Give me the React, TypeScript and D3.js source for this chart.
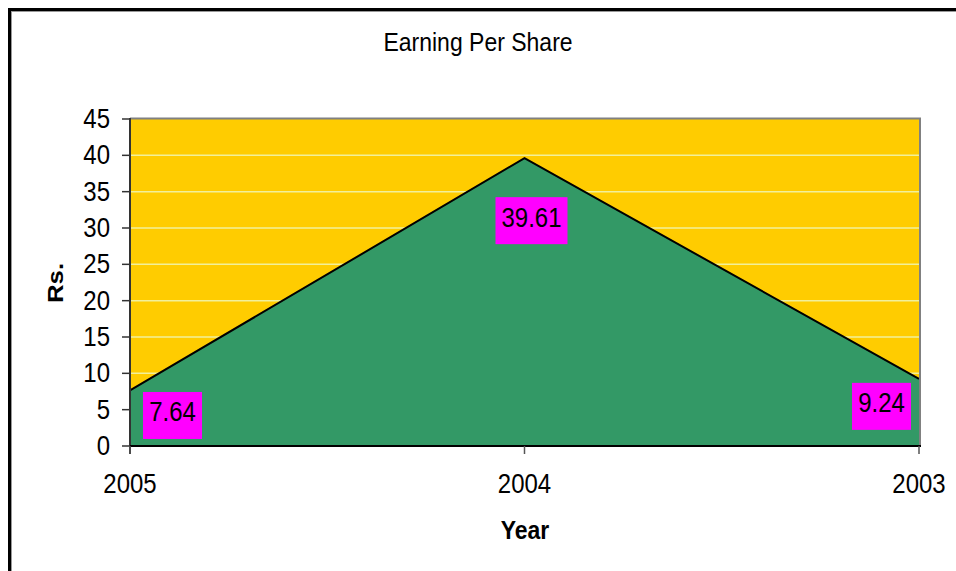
import React from "react";
import * as d3 from "d3";

const years = ["2005", "2004", "2003"];
const eps = [7.64, 39.61, 9.24];
const yTicks = [0, 5, 10, 15, 20, 25, 30, 35, 40, 45];
const labelOffsets = [
  { dx: 13, dy: 1.5 },
  { dx: -29, dy: 39 },
  { dx: -67, dy: 4 },
];

const W = 956, H = 571;
const L = 130, R = 919, T = 119, B = 446;
const FONT = "Arial, 'Liberation Sans', sans-serif";
const SY = 1.12;

export default function App() {
  const x = d3.scalePoint<string>().domain(years).range([L, R]);
  const y = d3.scaleLinear().domain([0, 45]).range([B, T]);
  const pts = years.map((yr, i) => ({ yr, v: eps[i] }));
  const area = d3.area<{ yr: string; v: number }>()
    .x(d => x(d.yr)!)
    .y0(B)
    .y1(d => y(d.v));
  const line = d3.line<{ yr: string; v: number }>()
    .x(d => x(d.yr)!)
    .y(d => y(d.v));

  const txt = (x0: number, y0: number, s: string, size: number, anchor: string, weight = "normal") => (
    <text
      transform={`translate(${x0},${y0}) scale(1,${SY})`}
      fontFamily={FONT}
      fontSize={size}
      fontWeight={weight}
      textAnchor={anchor}
      fill="#000"
    >{s}</text>
  );

  return (
    <svg width={W} height={H} style={{ position: "absolute", left: 0, top: 0, background: "#fff" }}>
      <rect x={0} y={0} width={W} height={H} fill="#fff" />
      {/* outer frame */}
      <line x1={8} x2={W} y1={9.5} y2={9.5} stroke="#000" strokeWidth={3} />
      <line x1={9.5} x2={9.5} y1={8} y2={H} stroke="#000" strokeWidth={3} />
      <line x1={11} x2={W} y1={11.5} y2={11.5} stroke="#999" strokeWidth={1} />
      <line x1={11.5} x2={11.5} y1={11} y2={H} stroke="#999" strokeWidth={1} />

      {txt(478, 51, "Earning Per Share", 23, "middle")}

      {/* plot background */}
      <rect x={L} y={T} width={R - L} height={B - T} fill="#FFCC00" />
      {yTicks.filter(t => t > 0 && t < 45).map(t => (
        <line key={t} x1={L} x2={R} y1={y(t)} y2={y(t)} stroke="#F2F09A" strokeWidth={1.5} />
      ))}
      <path d={area(pts)!} fill="#339966" />
      <path d={line(pts)!} fill="none" stroke="#000" strokeWidth={2} />
      {/* plot frame */}
      <line x1={L} x2={R + 2} y1={T - 0.5} y2={T - 0.5} stroke="#808080" strokeWidth={2} />
      <line x1={R + 1} x2={R + 1} y1={T - 1} y2={B} stroke="#808080" strokeWidth={2} />

      {/* y axis */}
      <line x1={L} x2={L} y1={T - 1} y2={B + 8} stroke="#333" strokeWidth={2} />
      {yTicks.map(t => (
        <g key={t}>
          <line x1={L - 8} x2={L} y1={y(t)} y2={y(t)} stroke="#333" strokeWidth={1.5} />
          {txt(110, y(t) + 9, String(t), 24, "end")}
        </g>
      ))}
      {/* x axis */}
      <line x1={L} x2={R + 2} y1={B} y2={B} stroke="#000" strokeWidth={2} />
      {years.map(yr => (
        <g key={yr}>
          <line x1={x(yr)!} x2={x(yr)!} y1={B} y2={B + 8} stroke="#555" strokeWidth={1.5} />
          {txt(x(yr)!, 493, yr, 24, "middle")}
        </g>
      ))}

      {/* data labels */}
      {pts.map((p, i) => {
        const o = labelOffsets[i];
        const px = x(p.yr)! + o.dx;
        const py = y(p.v) + o.dy;
        const label = p.v.toFixed(2);
        const bw = label.length > 4 ? 72 : 59;
        return (
          <g key={p.yr}>
            <rect x={px} y={py} width={bw} height={47} fill="#FF00FF" />
            {txt(px + bw / 2, py + 29.5, label, 24, "middle")}
          </g>
        );
      })}

      {/* axis titles */}
      {txt(525, 539, "Year", 23, "middle", "bold")}
      <text
        transform={`translate(63,283) rotate(-90) scale(${SY},1)`}
        fontFamily={FONT}
        fontSize={23}
        fontWeight="bold"
        textAnchor="middle"
      >Rs.</text>
    </svg>
  );
}
